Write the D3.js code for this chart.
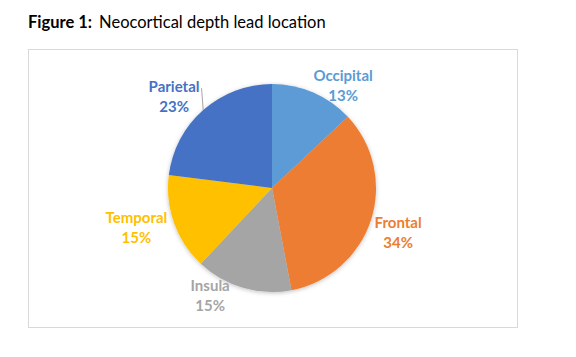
<!DOCTYPE html>
<html>
<head>
<meta charset="utf-8">
<script src="https://cdn.jsdelivr.net/npm/d3@7"></script>
<style>
  body { margin: 0; background: #fff; }
  svg { display: block; }
</style>
</head>
<body>
<svg id="chart" width="576" height="357"></svg>
<script>
// data
var regions = ["Occipital", "Frontal", "Insula", "Temporal", "Parietal"];
var shares = [13, 34, 15, 15, 23];
var colours = ["#5B9BD5", "#ED7D31", "#A5A5A5", "#FFC000", "#4472C4"];

// label nudges (px) away from the default outside-end spot, excel "best fit" is not regular
var nudgeX = [16, 0, -26, -4, -9];
var nudgeY = [16, 5, -16, -4, 5];

var svg = d3.select("#chart");

// title
var title = svg.append("text")
  .attr("x", 28)
  .attr("y", 28)
  .style("font-family", "Lato, Carlito, Calibri, sans-serif")
  .style("font-size", "16.5px")
  .style("fill", "#000");
title.append("tspan").style("font-weight", "bold").text("Figure 1:");
title.append("tspan").attr("dx", 7).text("Neocortical depth lead location");

// chart frame
svg.append("rect")
  .attr("x", 28.5).attr("y", 49.5)
  .attr("width", 489).attr("height", 278)
  .style("fill", "#fff")
  .style("stroke", "#d9d9d9")
  .style("stroke-width", 1);

var defs = svg.append("defs");
var f = defs.append("filter").attr("id", "shadow")
  .attr("x", "-20%").attr("y", "-20%").attr("width", "140%").attr("height", "140%");
f.append("feDropShadow").attr("dx", 0).attr("dy", 1)
  .attr("stdDeviation", 2).attr("flood-color", "#000").attr("flood-opacity", 0.25);

var cx = 272, cy = 188, r = 104;
var color = d3.scaleOrdinal().domain(regions).range(colours);

var pie = d3.pie().sort(null).value(function(d){ return d.v; });
var arc = d3.arc().innerRadius(0).outerRadius(r);
var rows = regions.map(function(name, i){ return {name: name, v: shares[i], i: i}; });
var slices = pie(rows);

var g = svg.append("g").attr("transform", "translate(" + cx + "," + cy + ")");

g.append("g").attr("filter", "url(#shadow)")
  .selectAll("path")
  .data(slices)
  .enter().append("path")
  .attr("d", arc)
  .style("fill", function(d){ return color(d.data.name); });

// labels
var total = d3.sum(shares);
var lab = g.selectAll(".lab")
  .data(slices)
  .enter().append("text")
  .attr("class", "lab")
  .attr("text-anchor", "middle")
  .style("font-family", "Lato, Carlito, Calibri, sans-serif")
  .style("font-weight", "bold")
  .style("font-size", "15px")
  .style("fill", function(d){ return color(d.data.name); });

lab.append("tspan").attr("class", "l1").text(function(d){ return d.data.name; });
lab.append("tspan").attr("class", "l2")
  .text(function(d){ return Math.round(d.data.v / total * 100) + "%"; });

lab.each(function(d){
  var t = d3.select(this);
  var w = this.querySelector(".l1").getComputedTextLength();
  var h = 40;
  var a = (d.startAngle + d.endAngle) / 2;
  var ux = Math.sin(a), uy = -Math.cos(a);
  var x = (r + 5) * ux + ux * w / 2 + nudgeX[d.data.i];
  var y = (r + 5) * uy + uy * h / 2 + nudgeY[d.data.i];
  d.lx = x; d.ly = y; d.lw = w;
  t.select(".l1").attr("x", x).attr("y", y - 10).attr("dy", "0.35em");
  t.select(".l2").attr("x", x).attr("y", y + 10).attr("dy", "0.35em");
});

// leader line for the label that sits away from its slice
slices.filter(function(d){ return d.data.name === "Parietal"; }).forEach(function(d){
  var a = (d.startAngle + d.endAngle) / 2;
  g.append("line")
    .attr("x1", d.lx + d.lw / 2 + 2).attr("y1", d.ly - 8)
    .attr("x2", r * Math.sin(a)).attr("y2", -r * Math.cos(a))
    .style("stroke", "#a6a6a6")
    .style("stroke-width", 1);
});
</script>
</body>
</html>
